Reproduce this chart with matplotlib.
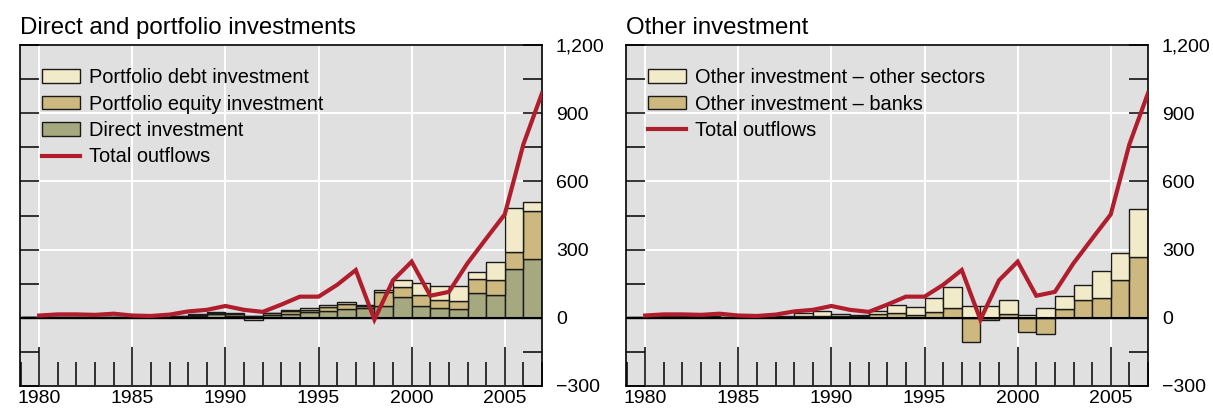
import numpy as np
import matplotlib.pyplot as plt
from matplotlib.ticker import MultipleLocator, FuncFormatter
from matplotlib.patches import Patch
from matplotlib.lines import Line2D

plt.rcParams['font.family'] = ['Liberation Sans', 'DejaVu Sans']

years = np.arange(1980, 2008)

# left panel: direct and portfolio investments
direct = [2, 2, 2, 2, 3, 2, 2, 3, 5, 9, 17, 10, 6, 12, 18, 24, 30, 37, 45, 50,
          92, 51, 41, 40, 111, 102, 215, 259]
equity = [1, 1, 1, 1, 1, 1, 1, 1, 1, 3, 4, 5, 4, 7, 10, 12, 16, 22, 6, 64,
          43, 48, 38, 35, 59, 66, 76, 212]
debt = [1, 1, 1, 1, 1, 1, 1, 1, 1, 3, 4, 4, -8, 4, 6, 8, 12, 11, 4, 9,
        30, 52, 60, 67, 33, 76, 193, 38]

# right panel: other investment
banks = [3, 3, 3, 3, 4, 2, 2, 3, 4, 8, 10, 7, 6, 15, 23, 12, 26, 44, -107, -10,
         15, -64, -70, 37, 80, 85, 168, 269]
other_sectors = [2, 3, 3, 3, 4, 3, 2, 3, 3, 11, 18, 9, 7, 14, 35, 36, 62, 93, 51, 52,
                 63, 12, 44, 58, 63, 123, 116, 209]

# total outflows (same line in both panels)
total = [10, 15, 15, 13, 18, 10, 8, 14, 28, 35, 52, 35, 26, 58, 93, 93, 145, 210, -8, 165,
         247, 97, 114, 240, 348, 455, 763, 988]

CREAM = '#f2ebca'
TAN = '#cdb87f'
OLIVE = '#a6a880'
RED = '#b01e2e'
EDGE = '#1a1a1a'
BG = '#e0e0e0'


def fmt(v, pos):
    return f"{v:,.0f}".replace('-', '\u2212')


def draw_panel(ax, title, layers, legend_items):
    ax.set_facecolor(BG)
    ax.set_axisbelow(True)

    pos = np.zeros(len(years))
    neg = np.zeros(len(years))
    for vals, color in layers:
        vals = np.array(vals, dtype=float)
        bottom = np.where(vals >= 0, pos, neg)
        ax.bar(years - 1, vals, width=1, bottom=bottom, align='edge',
               color=color, edgecolor=EDGE, linewidth=1.0, zorder=2)
        pos += np.clip(vals, 0, None)
        neg += np.clip(vals, None, 0)

    ax.axhline(0, color='black', lw=1.5, zorder=3)
    ax.plot(years, total, color=RED, lw=3.0, zorder=4, solid_joinstyle='miter')

    ax.set_xlim(1978.97, 2007)
    ax.set_ylim(-300, 1200)

    ax.xaxis.set_major_locator(MultipleLocator(5))
    ax.xaxis.set_minor_locator(MultipleLocator(1))
    ax.yaxis.set_major_locator(MultipleLocator(300))
    ax.yaxis.set_minor_locator(MultipleLocator(150))
    ax.yaxis.set_major_formatter(FuncFormatter(fmt))

    ax.tick_params(axis='x', which='major', direction='in', length=27.9, width=1.1,
                   labelsize=14, pad=3)
    ax.tick_params(axis='x', which='minor', direction='in', length=17.3, width=1.1)
    ax.tick_params(axis='y', which='both', direction='in', length=13.7, width=1.1,
                   left=True, right=True, labelleft=False, labelright=True,
                   labelsize=14, pad=10)

    ax.grid(True, which='major', color='white', lw=1.4)
    for s in ax.spines.values():
        s.set_linewidth(1.2)

    ax.set_title(title, loc='left', fontsize=17.3, pad=8)

    handles = []
    for label, color in legend_items:
        if color == RED:
            handles.append(Line2D([], [], color=RED, lw=3.0, label=label))
        else:
            handles.append(Patch(facecolor=color, edgecolor=EDGE, lw=1.0, label=label))
    ax.legend(handles=handles, loc='upper left', bbox_to_anchor=(0.043, 0.932),
              frameon=False, fontsize=14.4, borderpad=0, borderaxespad=0,
              handlelength=1.9, handleheight=0.65, handletextpad=0.42,
              labelspacing=0.37)


fig = plt.figure(figsize=(12.13, 4.08), dpi=100)
ax1 = fig.add_axes([20 / 1213, 1 - 386 / 408, 522 / 1213, 341 / 408])
ax2 = fig.add_axes([626 / 1213, 1 - 386 / 408, 522 / 1213, 341 / 408])

draw_panel(ax1, 'Direct and portfolio investments',
           [(direct, OLIVE), (equity, TAN), (debt, CREAM)],
           [('Portfolio debt investment', CREAM),
            ('Portfolio equity investment', TAN),
            ('Direct investment', OLIVE),
            ('Total outflows', RED)])

draw_panel(ax2, 'Other investment',
           [(banks, TAN), (other_sectors, CREAM)],
           [('Other investment \u2013 other sectors', CREAM),
            ('Other investment \u2013 banks', TAN),
            ('Total outflows', RED)])

fig.savefig('out.png', dpi=100)
